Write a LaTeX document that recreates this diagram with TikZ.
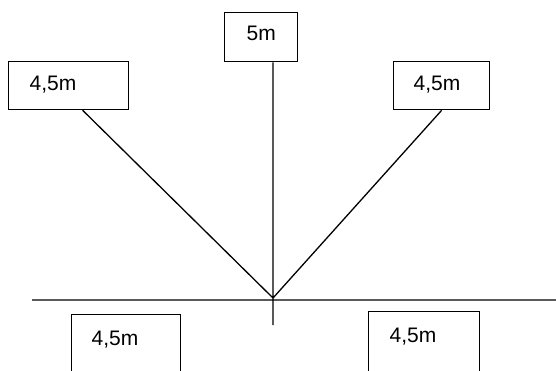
\documentclass[tikz,border=0pt]{standalone}
\usepackage{fontspec}
\setmainfont{Liberation Sans}
\usepackage{tikz}

\begin{document}
\begin{tikzpicture}[x=1pt,y=-1pt,line width=1.3pt]
    \tikzstyle{box}=[draw=black, rectangle, anchor=north west, inner sep=0pt, fill=white]
    \tikzstyle{lbl}=[anchor=base west, inner sep=0pt, font=\fontsize{21}{25}\selectfont, text=black]

    \useasboundingbox (0,0) rectangle (556,371);
    \clip (0,0) rectangle (556,371);

    \coordinate (hub)  at (273,298);
    \coordinate (vend) at (273,325);
    \coordinate (gl)   at (32,300);
    \coordinate (gr)   at (560,300);

    \node[box, minimum width=120pt, minimum height=48pt] (tl) at (8,61)   {};
    \node[box, minimum width=73pt,  minimum height=49pt] (tc) at (224,12)  {};
    \node[box, minimum width=96pt,  minimum height=48pt] (tr) at (393,61)  {};
    \node[box, minimum width=109pt, minimum height=90pt] (bl) at (71,314)  {};
    \node[box, minimum width=111pt, minimum height=90pt] (br) at (368,311) {};

    \node[lbl] (tltxt) at (29,91)   {4,5m};
    \node[lbl] (tctxt) at (246,41)  {5m};
    \node[lbl] (trtxt) at (413,91)  {4,5m};
    \node[lbl] (bltxt) at (91,345)  {4,5m};
    \node[lbl] (brtxt) at (389,342) {4,5m};

    \path[draw]
     (hub |- tc.south) -- (vend)
     (gl) -- (gr)
     (hub) -- ([xshift=14pt]tl.south)
     (hub) -- (tr.south)
     ;
\end{tikzpicture}
\end{document}
